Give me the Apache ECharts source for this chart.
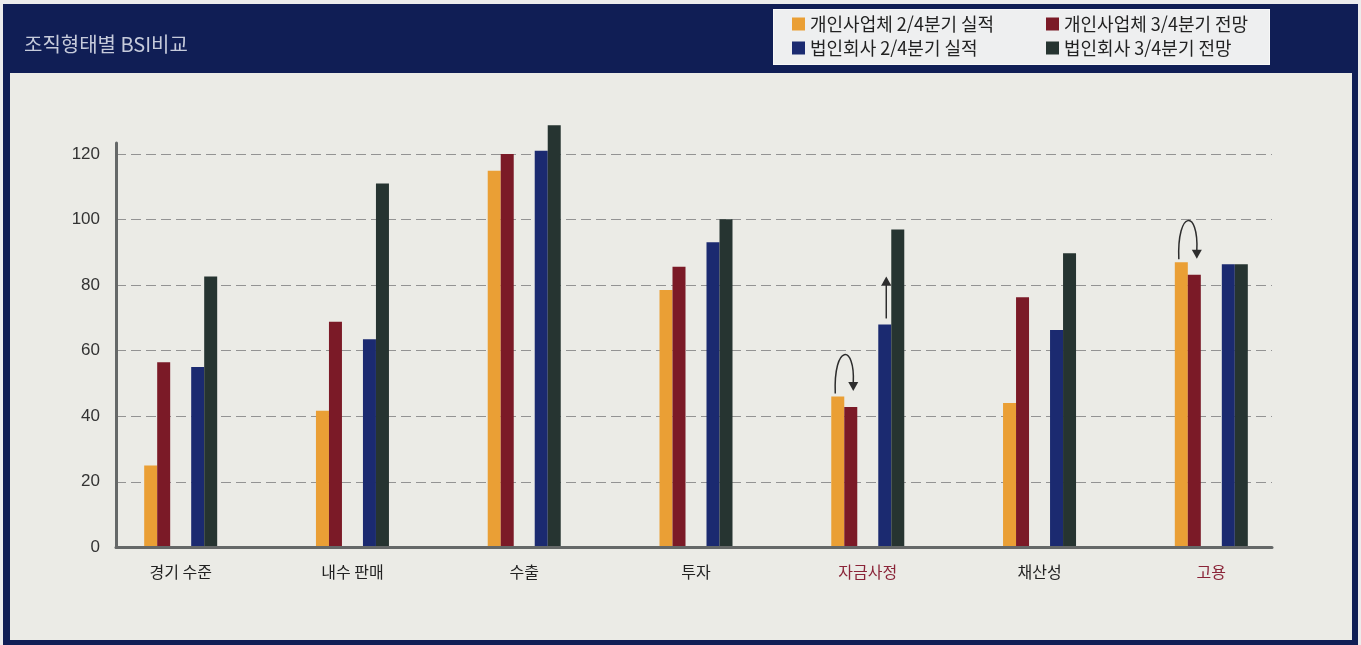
<!DOCTYPE html>
<html lang="ko">
<head>
<meta charset="utf-8">
<title>조직형태별 BSI비교</title>
<script src="https://cdn.jsdelivr.net/npm/echarts@6/dist/echarts.min.js"></script>
<style>
  html, body { margin: 0; padding: 0; background: #ECECEC; }
  #frame { position: absolute; left: 3px; top: 4px; width: 1355px; height: 641px; background: #101E55; }
  #panel { position: absolute; left: 10px; top: 73px; width: 1342px; height: 567px; background: #EBEBE6; }
  #legendBox { position: absolute; left: 773px; top: 9px; width: 495px; height: 54px;
               background: #EEEFF0; border: 1px solid #F8F8F8; }
  #chart { position: absolute; left: 0; top: 0; width: 1361px; height: 645px; }
</style>
</head>
<body>
<div id="frame"></div>
<div id="panel"></div>
<div id="legendBox"></div>
<div id="chart"></div>
<script>
// BSI by organisation type: sole proprietors vs. corporations,
// Q2 results and Q3 outlook per survey item.
const categories = ['경기 수준', '내수 판매', '수출', '투자', '자금사정', '채산성', '고용'];
const highlighted = ['자금사정', '고용'];

const soloActual  = [25.0, 41.7, 114.9, 78.5, 46.0, 44.0, 87.0];   // 개인사업체 2/4분기 실적
const soloOutlook = [56.5, 68.8, 120.0, 85.6, 42.8, 76.3, 83.2];   // 개인사업체 3/4분기 전망
const corpActual  = [55.0, 63.5, 121.0, 93.1, 68.0, 66.3, 86.4];   // 법인회사 2/4분기 실적
const corpOutlook = [82.6, 111.0, 128.8, 100.1, 97.0, 89.7, 86.4]; // 법인회사 3/4분기 전망

const yTicks = { min: 0, max: 120, interval: 20 };

// categories whose sole-proprietor bars get a "falls back" loop arrow,
// and where the corporate result gets an upward arrow
const loopArrowCats = [4, 6];
const upArrowCats = [4];

const seriesNames = [
  '개인사업체 2/4분기 실적',
  '개인사업체 3/4분기 전망',
  '법인회사 2/4분기 실적',
  '법인회사 3/4분기 전망'
];
const colors = ['#EA9F35', '#7B1A27', '#1B2A70', '#263431'];

// vertical scale shared by both grids: value 0 sits at y = 547.3, 3.277 px per unit
const zeroY = 547.3, pxPerUnit = 3.277;
const barsMax = 140;
const frameMax = 123.4;

const chart = echarts.init(document.getElementById('chart'), null, { renderer: 'canvas' });

const bar = (i) => ({
  name: seriesNames[i],
  type: 'bar',
  xAxisIndex: 0,
  yAxisIndex: 0,
  barWidth: 13,
  barGap: '0%',
  itemStyle: { color: colors[i] },
  data: [soloActual, soloOutlook, corpActual, corpOutlook][i]
});

chart.setOption({
  animation: false,
  textStyle: { fontFamily: '"Noto Sans CJK KR", "Noto Sans", sans-serif' },
  title: {
    text: '조직형태별 BSI비교',
    left: 19,
    top: 29,
    textStyle: { color: '#C6CBDB', fontSize: 20, fontWeight: 'normal',
                 fontFamily: '"Noto Sans CJK KR", sans-serif' }
  },
  legend: {
    left: 792,
    top: 14,
    width: 520,
    itemGap: 4,
    itemWidth: 13,
    itemHeight: 13,
    icon: 'rect',
    selectedMode: false,
    padding: 0,
    data: seriesNames,
    textStyle: { color: '#222', fontSize: 18, width: 232, lineHeight: 20,
                 fontFamily: '"Noto Sans CJK KR", sans-serif' }
  },
  grid: [
    { // bars: one band per category
      left: 94.8, width: 1202.4,
      top: zeroY - barsMax * pxPerUnit, height: barsMax * pxPerUnit
    },
    { // frame: axis lines, ticks and guide lines
      left: 116, width: 1156,
      top: zeroY - frameMax * pxPerUnit, height: frameMax * pxPerUnit
    }
  ],
  xAxis: [
    {
      gridIndex: 0,
      type: 'category',
      data: categories,
      axisLine: { show: false },
      axisTick: { show: false },
      axisLabel: {
        margin: 17,
        fontSize: 16,
        color: (v) => highlighted.includes(v) ? '#8A2438' : '#222',
        fontFamily: '"Noto Sans CJK KR", sans-serif'
      }
    },
    {
      gridIndex: 1,
      type: 'value',
      min: 0, max: 1,
      z: 3,
      axisLine: { show: true, lineStyle: { color: '#656868', width: 3 } },
      axisTick: { show: false },
      axisLabel: { show: false },
      splitLine: { show: false }
    }
  ],
  yAxis: [
    {
      gridIndex: 0,
      type: 'value',
      min: 0, max: barsMax,
      show: false
    },
    {
      gridIndex: 1,
      type: 'value',
      min: yTicks.min, max: frameMax, interval: yTicks.interval,
      axisLine: { show: true, lineStyle: { color: '#656868', width: 3 } },
      axisTick: { show: false },
      axisLabel: {
        margin: 16,
        fontSize: 17,
        color: '#333',
        showMaxLabel: false,
        fontFamily: '"Liberation Sans", Arial, sans-serif'
      },
      splitLine: {
        show: true,
        showMinLine: false,
        showMaxLine: false,
        lineStyle: { color: '#939393', width: 1, type: [10, 5] }
      }
    }
  ],
  series: [
    bar(0),
    bar(1),
    { // empty slot separating the two organisation types
      name: 'gap', type: 'bar', xAxisIndex: 0, yAxisIndex: 0,
      barWidth: 21, silent: true, data: categories.map(() => '-')
    },
    bar(2),
    bar(3)
  ]
});

// arrows, positioned from the bar values through the chart's scales
const toPx = (cat, v) => chart.convertToPixel({ xAxisIndex: 0, yAxisIndex: 0 }, [cat, v]);
const ink = '#2D2D2D';

function arrowHead(x, tipY, dir) {
  const h = 9 * dir, w = 5;
  return { type: 'polygon', z: 20, shape: { points: [[x - w, tipY - h], [x + w, tipY - h], [x, tipY]] },
           style: { fill: ink } };
}

const annotations = [];
loopArrowCats.forEach((cat) => {
  const [cx, yFrom] = toPx(cat, soloActual[cat]);
  const yTo = toPx(cat, soloOutlook[cat])[1];
  const sx = cx - 32.5, sy = yFrom - 3;
  const ex = cx - 14.5, tip = yTo - 16;
  const ctrlY = sy - 50;
  annotations.push({
    type: 'bezierCurve', z: 20,
    shape: { x1: sx, y1: sy, cpx1: sx - 2, cpy1: ctrlY, cpx2: ex + 2, cpy2: ctrlY, x2: ex, y2: tip - 8 },
    style: { stroke: ink, lineWidth: 1.5, fill: null }
  });
  annotations.push(arrowHead(ex, tip, 1));
});
upArrowCats.forEach((cat) => {
  const [cx, yBar] = toPx(cat, corpActual[cat]);
  const x = cx + 18.5, y0 = yBar - 6, tip = yBar - 48;
  annotations.push({
    type: 'line', z: 20,
    shape: { x1: x, y1: y0, x2: x, y2: tip + 8 },
    style: { stroke: ink, lineWidth: 1.5 }
  });
  annotations.push(arrowHead(x, tip, -1));
});
chart.setOption({ graphic: annotations });
</script>
</body>
</html>
